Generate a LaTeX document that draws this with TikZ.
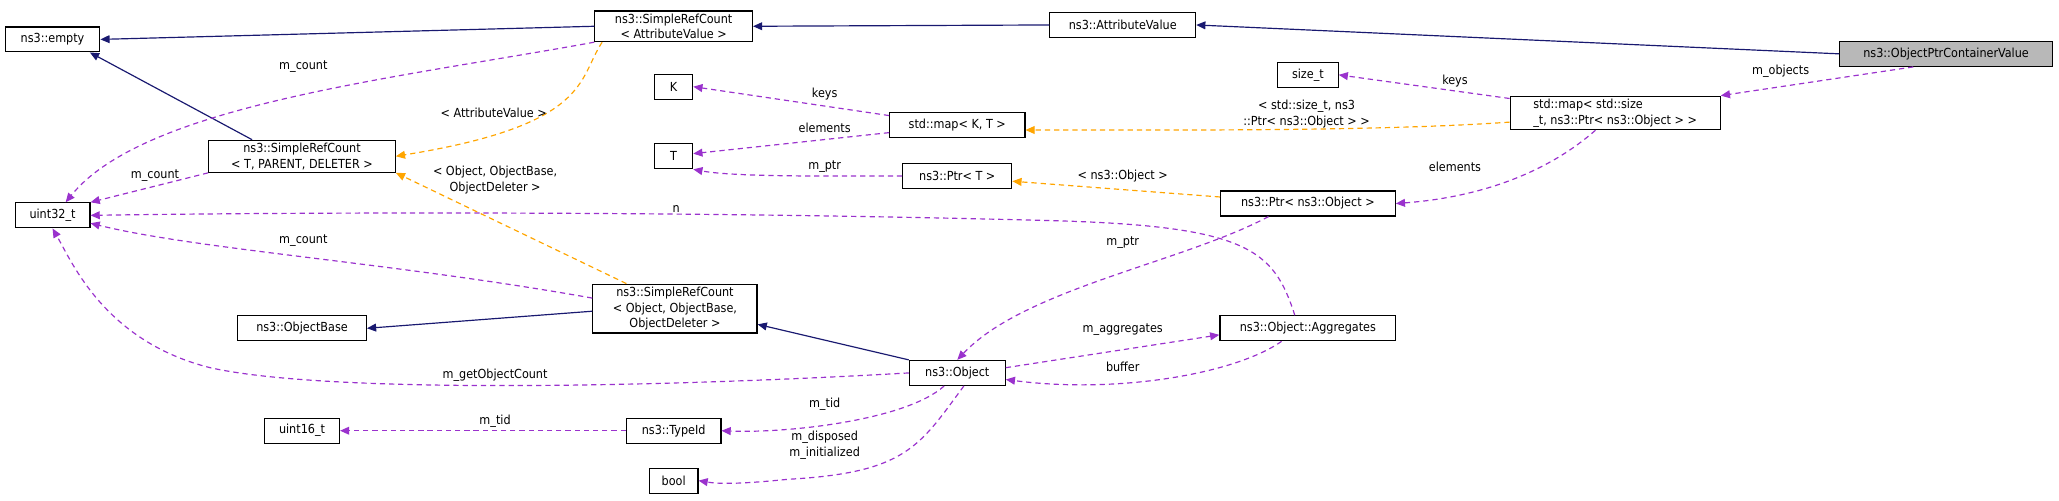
\documentclass[tikz,border=0pt]{standalone}
\usepackage{fontspec}
\setmainfont{DejaVu Sans Condensed}
\usetikzlibrary{arrows.meta}
\definecolor{purp}{HTML}{9A32CD}
\definecolor{orng}{HTML}{FFA500}
\definecolor{navy}{HTML}{191970}
\begin{document}
\begin{tikzpicture}[x=1pt,y=-1pt,font=\fontsize{9.5}{12}\selectfont,
  box/.style={draw=black,line width=0.9pt,fill=white,align=center,inner sep=2pt,minimum height=19pt},
  inh/.style={-{Triangle[length=7pt,width=6pt,fill=navy]},draw=navy,line width=0.9pt},
  mem/.style={-{Triangle[length=7pt,width=6pt,fill=purp]},draw=purp,line width=0.9pt,dash pattern=on 4pt off 3pt},
  tpl/.style={-{Triangle[length=7pt,width=6pt,fill=orng]},draw=orng,line width=0.9pt,dash pattern=on 4pt off 3pt},
  lab/.style={align=center,inner sep=0pt}]
\useasboundingbox (0,0) rectangle (1568,381);
\node[box,minimum width=72pt] (empty) at (40,30) {ns3::empty};
\node[box,minimum width=120pt] (srcav) at (513,20) {ns3::SimpleRefCount\\< AttributeValue >};
\node[box,minimum width=111pt] (av) at (855,19) {ns3::AttributeValue};
\node[box,minimum width=162pt,fill=black!28] (opcv) at (1482,41) {ns3::ObjectPtrContainerValue};
\node[box,minimum width=29pt] (K) at (513,66) {K};
\node[box,minimum width=29pt] (T) at (513,119) {T};
\node[box,minimum width=103pt] (mapkt) at (729,95) {std::map< K, T >};
\node[box,minimum width=46pt] (sizet) at (996,57) {size\_t};
\node[box,minimum width=160pt,align=left] (bigmap) at (1230,86) {std::map< std::size\\\_t, ns3::Ptr< ns3::Object > >};
\node[box,minimum width=142pt] (srct) at (230,119) {ns3::SimpleRefCount\\< T, PARENT, DELETER >};
\node[box,minimum width=57pt] (u32) at (40,164) {uint32\_t};
\node[box,minimum width=83pt] (ptrt) at (729,134) {ns3::Ptr< T >};
\node[box,minimum width=133pt] (ptro) at (996,155) {ns3::Ptr< ns3::Object >};
\node[box,minimum width=125pt] (srco) at (514,235) {ns3::SimpleRefCount\\< Object, ObjectBase,\\ObjectDeleter >};
\node[box,minimum width=98pt] (obase) at (230,250) {ns3::ObjectBase};
\node[box,minimum width=134pt] (agg) at (996,250) {ns3::Object::Aggregates};
\node[box,minimum width=73pt] (obj) at (729,284) {ns3::Object};
\node[box,minimum width=57pt] (u16) at (230,328) {uint16\_t};
\node[box,minimum width=72pt] (tid) at (513,328) {ns3::TypeId};
\node[box,minimum width=37pt] (bool) at (513,366) {bool};
% inheritance
\draw[inh] (srcav.west) -- (empty.east);
\draw[inh] ([xshift=-38pt]srct.north) -- ([xshift=-8pt]empty.south east);
\draw[inh] (av.west) -- (srcav.east);
\draw[inh] (opcv.west) -- (av.east);
\draw[inh] (obj.north west) -- ([yshift=-12pt]srco.east);
\draw[inh] ([yshift=-2pt]srco.west) -- (obase.east);
% members
\draw[mem] (srcav.south west) .. controls (300,60) and (110,80) .. ([xshift=10pt]u32.north);
\node[lab] at (231,51) {m\_count};
\draw[mem] (srct.south west) -- (u32.north east);
\node[lab] at (118,134) {m\_count};
\draw[mem] ([yshift=8pt]srco.west) .. controls (300,200) and (150,190) .. ([yshift=-6pt]u32.east);
\node[lab] at (231,183) {m\_count};
\draw[mem] (obj.west) .. controls (500,295) and (250,300) .. (160,280) .. controls (80,260) and (55,200) .. (u32.south);
\node[lab] at (377,286) {m\_getObjectCount};
\draw[mem] ([xshift=-10pt]agg.north) .. controls (970,190) and (950,172) .. (800,168) .. controls (500,160) and (200,162) .. (u32.east);
\node[lab] at (515,159) {n};
\draw[mem] ([yshift=7pt]mapkt.west) -- (K.east);
\node[lab] at (628,72) {keys};
\draw[mem] ([yshift=-6pt]mapkt.west) -- ([yshift=2pt]T.east);
\node[lab] at (628,97) {elements};
\draw[mem] (ptrt.west) .. controls (640,134) and (560,135) .. (T.south east);
\node[lab] at (628,127) {m\_ptr};
\draw[mem] ([yshift=11pt]bigmap.west) -- (sizet.east);
\node[lab] at (1108,62) {keys};
\draw[mem] ([xshift=-15pt]bigmap.south) .. controls (1180,130) and (1130,150) .. (ptro.east);
\node[lab] at (1108,127) {elements};
\draw[mem] ([xshift=-25pt]opcv.south) -- (bigmap.north east);
\node[lab] at (1356,54) {m\_objects};
\draw[mem] ([xshift=-30pt]ptro.south) .. controls (900,200) and (780,220) .. (obj.north);
\node[lab] at (855,185) {m\_ptr};
\draw[mem] ([yshift=4pt]obj.east) -- ([yshift=-5pt]agg.west);
\node[lab] at (855,251) {m\_aggregates};
\draw[mem] ([xshift=-20pt]agg.south) .. controls (940,285) and (850,300) .. ([yshift=-5pt]obj.east);
\node[lab] at (855,279) {buffer};
\draw[mem] ([xshift=-10pt]obj.south) .. controls (690,320) and (600,330) .. (tid.east);
\node[lab] at (628,308) {m\_tid};
\draw[mem] (tid.west) -- (u16.east);
\node[lab] at (377,321) {m\_tid};
\draw[mem] ([xshift=5pt]obj.south) .. controls (700,340) and (690,360) .. (600,365) .. controls (570,368) and (550,369) .. (bool.east);
\node[lab] at (628,339) {m\_disposed\\m\_initialized};
% templates
\draw[tpl] ([xshift=6pt]srcav.south west) .. controls (440,60) and (450,95) .. (srct.east);
\node[lab] at (376,86) {< AttributeValue >};
\draw[tpl] ([xshift=-37pt]srco.north) -- (srct.south east);
\node[lab] at (377,137) {< Object, ObjectBase,\\ObjectDeleter >};
\draw[tpl] ([yshift=-7pt]bigmap.west) .. controls (1050,100) and (900,99) .. ([yshift=-4pt]mapkt.east);
\node[lab] at (995,87) {< std::size\_t, ns3\\::Ptr< ns3::Object > >};
\draw[tpl] ([yshift=5pt]ptro.west) -- ([yshift=-4pt]ptrt.east);
\node[lab] at (855,134) {< ns3::Object >};
\end{tikzpicture}
\end{document}
